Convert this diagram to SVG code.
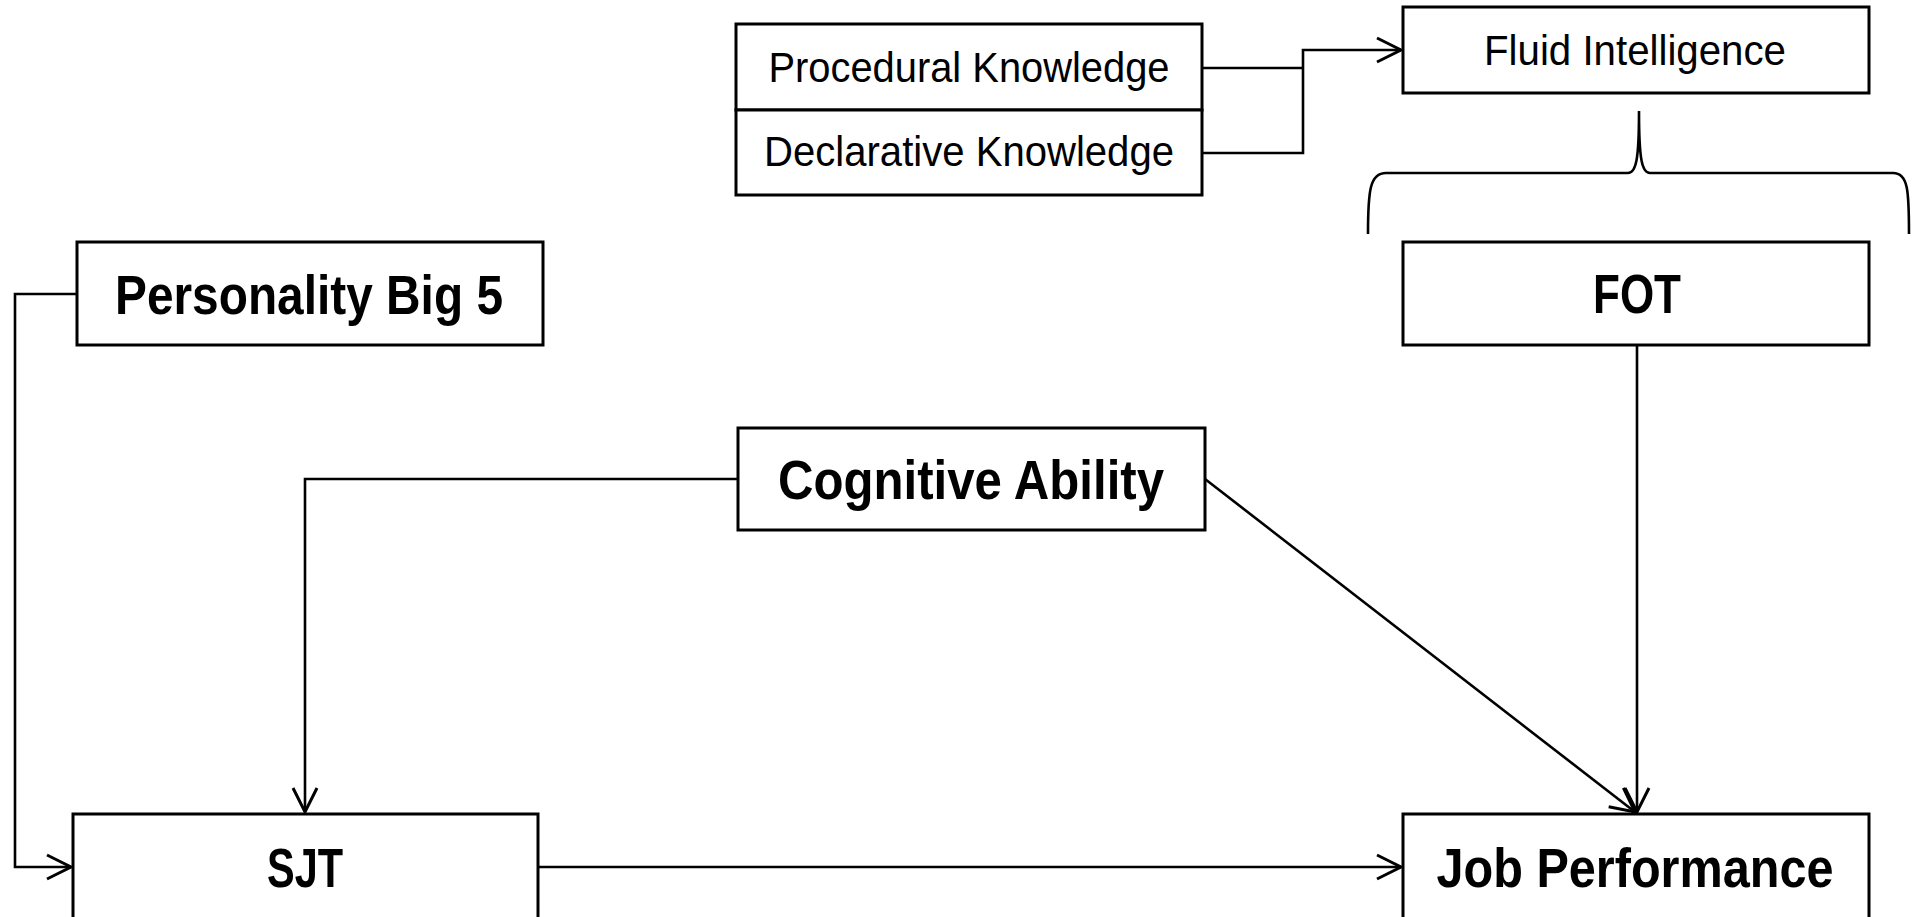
<svg xmlns="http://www.w3.org/2000/svg" width="1914" height="917" viewBox="0 0 1914 917">
<style>
.box{fill:#fff;stroke:#000;stroke-width:3}
.c{fill:none;stroke:#000;stroke-width:2.6}
.r{font-family:"Liberation Sans",Arial,sans-serif;font-size:42px;text-anchor:middle;fill:#000}
.b{font-family:"Liberation Sans",Arial,sans-serif;font-size:56px;font-weight:bold;text-anchor:middle;fill:#000}
</style>
<defs>
<marker id="ah" markerUnits="userSpaceOnUse" markerWidth="40" markerHeight="40" viewBox="-30 -20 40 40" refX="0" refY="0" orient="auto">
<path d="M-24,-12 L0,0 L-24,12" fill="none" stroke="#000" stroke-width="3"/>
</marker>
</defs>
<rect width="1914" height="917" fill="#fff"/>
<g id="connectors">
<path class="c" d="M1203,68 H1303"/>
<path class="c" d="M1203,153 H1303 V50 H1401" marker-end="url(#ah)"/>
<path class="c" d="M77,294 H15 V867 H71" marker-end="url(#ah)"/>
<path class="c" d="M737,479 H305 V812" marker-end="url(#ah)"/>
<path class="c" d="M1205,479 L1635,812" marker-end="url(#ah)"/>
<path class="c" d="M1637,345 V812" marker-end="url(#ah)"/>
<path class="c" d="M538,867 H1401" marker-end="url(#ah)"/>
<path class="c" d="M1368,234 C1368,190 1370,173 1386,173 L1628,173 C1636,173 1639,160 1639,111 C1639,160 1642,173 1650,173 L1893,173 C1908,173 1909,190 1909,234"/>
</g>
<g id="procedural"><rect class="box" x="736" y="24" width="466" height="86"/><text class="r" x="969" y="82" textLength="401" lengthAdjust="spacingAndGlyphs">Procedural Knowledge</text></g>
<g id="declarative"><rect class="box" x="736" y="110" width="466" height="85"/><text class="r" x="969" y="166" textLength="410" lengthAdjust="spacingAndGlyphs">Declarative Knowledge</text></g>
<g id="fluid"><rect class="box" x="1403" y="7" width="466" height="86"/><text class="r" x="1635" y="65" textLength="302" lengthAdjust="spacingAndGlyphs">Fluid Intelligence</text></g>
<g id="fot"><rect class="box" x="1403" y="242" width="466" height="103"/><text class="b" x="1637" y="313" textLength="88" lengthAdjust="spacingAndGlyphs">FOT</text></g>
<g id="personality"><rect class="box" x="77" y="242" width="466" height="103"/><text class="b" x="309" y="314" textLength="388" lengthAdjust="spacingAndGlyphs">Personality Big 5</text></g>
<g id="cognitive"><rect class="box" x="738" y="428" width="467" height="102"/><text class="b" x="971" y="499" textLength="386" lengthAdjust="spacingAndGlyphs">Cognitive Ability</text></g>
<g id="sjt"><rect class="box" x="73" y="814" width="465" height="112"/><text class="b" x="305" y="887" textLength="76" lengthAdjust="spacingAndGlyphs">SJT</text></g>
<g id="jobperf"><rect class="box" x="1403" y="814" width="466" height="112"/><text class="b" x="1635" y="887" textLength="397" lengthAdjust="spacingAndGlyphs">Job Performance</text></g>
</svg>
